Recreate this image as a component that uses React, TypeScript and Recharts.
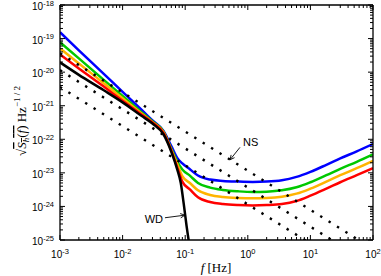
import { LineChart, Line, XAxis, YAxis, ReferenceLine } from "recharts"

// frequency grid shared by the four detector noise curves [Hz]
const freqs = [1e-3, 2e-3, 5e-3, 1e-2, 2e-2, 3e-2, 4.5e-2, 6e-2, 7.5e-2, 9e-2, 0.12, 0.16, 0.25, 0.4, 0.7, 1.2, 2, 3.5, 6, 10, 18, 30, 55, 100]

// log10 of sqrt(S_h)
const blueLog = [-18.81, -19.35, -20.05, -20.59, -21.12, -21.44, -21.75, -22.2, -22.56, -22.72, -22.9, -23.08, -23.2, -23.24, -23.26, -23.27, -23.26, -23.22, -23.12, -22.97, -22.76, -22.57, -22.36, -22.14]
const greenLog = [-19.11, -19.59, -20.23, -20.71, -21.19, -21.47, -21.77, -22.28, -22.67, -22.9, -23.09, -23.3, -23.44, -23.51, -23.55, -23.57, -23.56, -23.52, -23.43, -23.28, -23.07, -22.88, -22.67, -22.45]
const orangeLog = [-19.29, -19.74, -20.33, -20.78, -21.23, -21.49, -21.79, -22.32, -22.75, -23.1, -23.31, -23.52, -23.66, -23.72, -23.75, -23.76, -23.75, -23.71, -23.62, -23.47, -23.26, -23.07, -22.86, -22.64]
const redLog = [-19.47, -19.89, -20.43, -20.85, -21.26, -21.5, -21.81, -22.33, -22.85, -23.26, -23.5, -23.73, -23.87, -23.93, -23.96, -23.97, -23.96, -23.93, -23.84, -23.68, -23.47, -23.28, -23.07, -22.86]

// white dwarf confusion noise
const wdFreqs = [1e-3, 2e-3, 5e-3, 1e-2, 2e-2, 3e-2, 4.5e-2, 6e-2, 7.5e-2, 8.5e-2, 9.5e-2, 0.105, 0.12]
const wdLog = [-19.71, -20.08, -20.54, -20.9, -21.3, -21.53, -21.85, -22.37, -22.91, -23.3, -23.94, -24.57, -25.3]

// neutron star binaries (dotted), end points
const nsFreqs = [1e-3, 100]
const nsNearLog = [-19.44, -25.27]
const nsMidLog = [-19.94, -25.77]
const nsFarLog = [-20.44, -26.27]

// annotation arrows: [tail, head] as [f, h]
const nsArrow = [[0.75, 5.75e-23], [0.52, 2.45e-23]]
const wdArrow = [[0.0475, 4.6e-25], [0.099, 5.5e-25]]

const xTickExps = [-3, -2, -1, 0, 1, 2]
const yTickExps = [-25, -24, -23, -22, -21, -20, -19, -18]

const toSeries = (fs: number[], logs: number[]) => fs.map((f, i) => ({ f, h: Math.pow(10, logs[i]) }))

const W = 381
const H = 276
// axes are 1px thick, so the plot box is 60..373 x 5..240
const M = { top: 4, right: 7, bottom: 35, left: 59 }
const PL = 60
const PR = 373
const PT = 5
const PB = 240

const logTicks = (exps: number[]) => {
  const t: number[] = []
  for (let i = 0; i < exps.length - 1; i++) {
    for (let k = 1; k < 10; k++) t.push(k * Math.pow(10, exps[i]))
  }
  t.push(Math.pow(10, exps[exps.length - 1]))
  return t
}
const xTicks = logTicks(xTickExps)
const yTicks = logTicks(yTickExps)

const isMajor = (v: number) => {
  const l = Math.log10(v)
  return Math.abs(l - Math.round(l)) < 1e-6
}

const sans = "Liberation Sans, Arial, Helvetica, sans-serif"
const serif = "Liberation Serif, Times New Roman, serif"

function Pow({ x, y, exp, anchor }: { x: number; y: number; exp: number; anchor: string }) {
  return (
    <text x={x} y={y} textAnchor={anchor} fontFamily={sans} fontSize={10} fill="#000">
      10<tspan dy={-4.5} fontSize={7.5}>{exp}</tspan>
    </text>
  )
}

const BottomTick = (p: any) => {
  const major = isMajor(p.payload.value)
  return (
    <g>
      <line x1={p.x} x2={p.x} y1={PB} y2={PB - (major ? 5 : 3)} stroke="#000" />
      {major && <Pow x={p.x} y={PB + 18} exp={Math.round(Math.log10(p.payload.value))} anchor="middle" />}
    </g>
  )
}
const TopTick = (p: any) => {
  const major = isMajor(p.payload.value)
  return <line x1={p.x} x2={p.x} y1={PT} y2={PT + (major ? 5 : 3)} stroke="#000" />
}
const LeftTick = (p: any) => {
  const major = isMajor(p.payload.value)
  return (
    <g>
      <line x1={PL} x2={PL + (major ? 5 : 3)} y1={p.y} y2={p.y} stroke="#000" />
      {major && <Pow x={PL - 6} y={p.y + 5} exp={Math.round(Math.log10(p.payload.value))} anchor="end" />}
    </g>
  )
}
const RightTick = (p: any) => {
  const major = isMajor(p.payload.value)
  return <line x1={PR} x2={PR - (major ? 5 : 3)} y1={p.y} y2={p.y} stroke="#000" />
}

const XTitle = () => (
  <text x={216} y={272} textAnchor="middle" fontFamily={serif} fontSize={13} fill="#000">
    <tspan fontStyle="italic">f</tspan> [Hz]
  </text>
)

const YTitle = () => (
  <text transform="translate(26,121) rotate(-90)" textAnchor="middle" fontFamily={serif} fontSize={13} fill="#000">
    √<tspan style={{ textDecoration: "overline" }}>
      <tspan fontStyle="italic">S</tspan>
      <tspan dy={3} fontSize={9} fontStyle="italic">h</tspan>
      <tspan dy={-3}>(</tspan>
      <tspan fontStyle="italic">f</tspan>)
    </tspan>{" "}Hz<tspan dy={-6} fontSize={9}>−1 / 2</tspan>
  </text>
)

const arrowShape = (label: string, dx: number, dy: number, anchor: string) => (p: any) => {
  const { x1, y1, x2, y2 } = p
  const a = Math.atan2(y2 - y1, x2 - x1)
  const hl = 5
  const hw = 0.45
  return (
    <g>
      <line x1={x1} y1={y1} x2={x2} y2={y2} stroke="#000" strokeWidth={0.9} />
      <polyline
        points={`${x2 - hl * Math.cos(a - hw)},${y2 - hl * Math.sin(a - hw)} ${x2},${y2} ${x2 - hl * Math.cos(a + hw)},${y2 - hl * Math.sin(a + hw)}`}
        fill="none"
        stroke="#000"
        strokeWidth={0.9}
      />
      <text x={x1 + dx} y={y1 + dy} textAnchor={anchor} fontFamily={sans} fontSize={11} fill="#000">
        {label}
      </text>
    </g>
  )
}

export default function App() {
  const solid = [
    { key: "blue", color: "#0000ff", data: toSeries(freqs, blueLog) },
    { key: "green", color: "#00c800", data: toSeries(freqs, greenLog) },
    { key: "orange", color: "#ffb400", data: toSeries(freqs, orangeLog) },
    { key: "red", color: "#ff0000", data: toSeries(freqs, redLog) },
    { key: "wd", color: "#000000", data: toSeries(wdFreqs, wdLog) },
  ]
  const dotted = [nsNearLog, nsMidLog, nsFarLog].map((l) => toSeries(nsFreqs, l))

  return (
    <div style={{ position: "absolute", left: 0, top: 0, background: "#fff" }}>
      <LineChart width={W} height={H} margin={M}>
        <XAxis
          dataKey="f"
          type="number"
          scale="log"
          domain={[1e-3, 100]}
          allowDataOverflow
          ticks={xTicks}
          interval={0}
          height={1}
          tickLine={false}
          axisLine={{ stroke: "#000", strokeWidth: 1.3 }}
          tick={BottomTick}
          label={<XTitle />}
        />
        <XAxis
          xAxisId="top"
          orientation="top"
          dataKey="f"
          type="number"
          scale="log"
          domain={[1e-3, 100]}
          allowDataOverflow
          ticks={xTicks}
          interval={0}
          height={1}
          tickLine={false}
          axisLine={{ stroke: "#000", strokeWidth: 1.3 }}
          tick={TopTick}
        />
        <YAxis
          type="number"
          scale="log"
          domain={[1e-25, 1e-18]}
          allowDataOverflow
          ticks={yTicks}
          interval={0}
          width={1}
          tickLine={false}
          axisLine={{ stroke: "#000", strokeWidth: 1.3 }}
          tick={LeftTick}
          label={<YTitle />}
        />
        <YAxis
          yAxisId="right"
          orientation="right"
          type="number"
          scale="log"
          domain={[1e-25, 1e-18]}
          allowDataOverflow
          ticks={yTicks}
          interval={0}
          width={1}
          tickLine={false}
          axisLine={{ stroke: "#000", strokeWidth: 1.3 }}
          tick={RightTick}
        />
        {solid.map((s) => (
          <Line
            key={s.key}
            data={s.data}
            dataKey="h"
            type="monotone"
            stroke={s.color}
            strokeWidth={2.5}
            dot={false}
            activeDot={false}
            isAnimationActive={false}
          />
        ))}
        {dotted.map((d, i) => (
          <Line
            key={"ns" + i}
            data={d}
            dataKey="h"
            type="linear"
            stroke="#000"
            strokeWidth={2.4}
            strokeDasharray="2.4 7.5"
            dot={false}
            activeDot={false}
            isAnimationActive={false}
          />
        ))}
        <ReferenceLine
          segment={[{ x: nsArrow[0][0], y: nsArrow[0][1] }, { x: nsArrow[1][0], y: nsArrow[1][1] }]}
          shape={arrowShape("NS", 3, -1, "start")}
        />
        <ReferenceLine
          segment={[{ x: wdArrow[0][0], y: wdArrow[0][1] }, { x: wdArrow[1][0], y: wdArrow[1][1] }]}
          shape={arrowShape("WD", -2, 5, "end")}
        />
      </LineChart>
    </div>
  )
}
